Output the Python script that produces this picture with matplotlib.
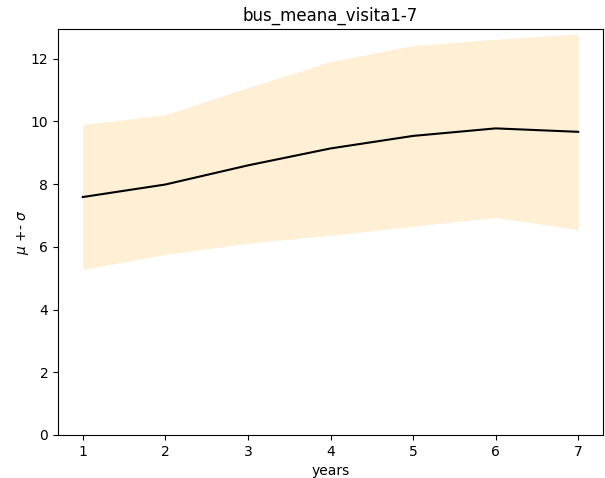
import numpy as np
import matplotlib
matplotlib.use("Agg")
import matplotlib.pyplot as plt

# values
years = [1, 2, 3, 4, 5, 6, 7]
mean = [7.59, 7.99, 8.60, 9.14, 9.54, 9.78, 9.67]
sigma = [2.31, 2.23, 2.48, 2.77, 2.88, 2.84, 3.12]

mu = np.array(mean)
sd = np.array(sigma)

fig = plt.figure(figsize=(6.05, 4.78), dpi=100)
ax = fig.add_axes([58 / 605, 1 - 435 / 478, 545 / 605, 406 / 478])

ax.fill_between(years, mu - sd, mu + sd, color='papayawhip', linewidth=0)
ax.plot(years, mu, color='black', linewidth=1.5)

ax.set_ylim(0, 12.95)
ax.set_xlim(0.7, 7.3)
ax.set_xticks(years)
ax.set_title('bus_meana_visita1-7')
ax.set_xlabel('years')
ax.set_ylabel(r'$\mu$ +- $\sigma$', labelpad=0)

fig.savefig('out.png', dpi=100)
